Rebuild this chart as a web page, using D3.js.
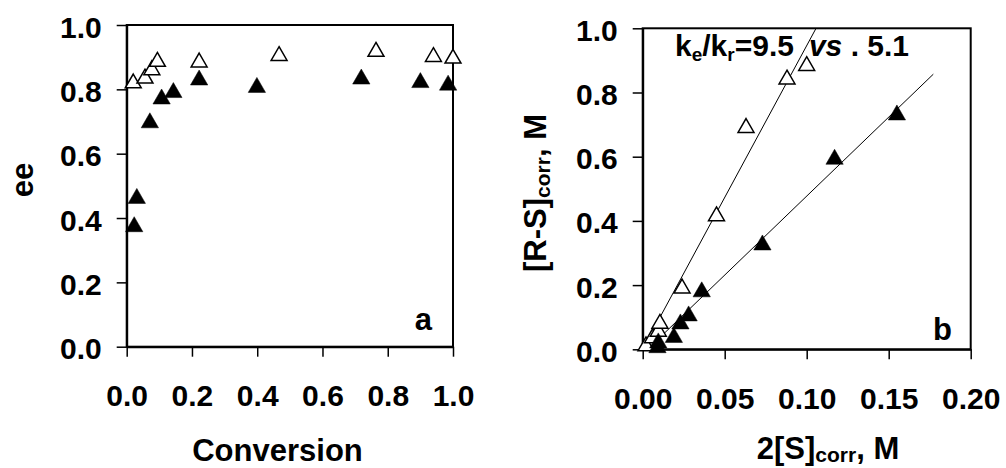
<!DOCTYPE html>
<html>
<head>
<meta charset="utf-8">
<script src="https://cdn.jsdelivr.net/npm/d3@7"></script>
<style>
  html, body { margin: 0; padding: 0; background: #fff; }
  svg { display: block; font-family: "Liberation Sans", Arial, sans-serif; font-weight: bold; }
  text { white-space: pre; }
</style>
</head>
<body>
<svg id="chart" width="1006" height="468"></svg>
<script>
// ---------- data: panel a (ee vs conversion) ----------
const convFilled = [0.023, 0.031, 0.071, 0.107, 0.143, 0.222, 0.399, 0.719, 0.900, 0.985];
const eeFilled   = [0.373, 0.461, 0.696, 0.770, 0.790, 0.829, 0.806, 0.832, 0.821, 0.813];
const convOpen   = [0.020, 0.056, 0.077, 0.094, 0.222, 0.467, 0.764, 0.940, 1.000];
const eeOpen     = [0.819, 0.834, 0.860, 0.886, 0.884, 0.904, 0.917, 0.901, 0.896];

// ---------- data: panel b ([R-S]corr vs 2[S]corr) ----------
const sFilled  = [0.009, 0.0095, 0.019, 0.023, 0.028, 0.036, 0.073, 0.117, 0.155];
const rsFilled = [0.005, 0.020, 0.037, 0.079, 0.104, 0.179, 0.325, 0.592, 0.730];
const sOpen    = [0.002, 0.006, 0.0095, 0.0105, 0.024, 0.045, 0.063, 0.088, 0.100];
const rsOpen   = [0.010, 0.035, 0.055, 0.080, 0.190, 0.415, 0.690, 0.841, 0.883];

// fitted lines (x, y)
const fitOpenX   = [0.0, 0.1057];
const fitOpenY   = [0.0, 1.0];
const fitFilledX = [0.003, 0.1772];
const fitFilledY = [0.0, 0.857];

// ticks
const ticksAx = [0, 0.2, 0.4, 0.6, 0.8, 1.0];
const ticksAy = [0, 0.2, 0.4, 0.6, 0.8, 1.0];
const ticksBx = [0, 0.05, 0.10, 0.15, 0.20];
const ticksBy = [0, 0.2, 0.4, 0.6, 0.8, 1.0];

// ---------- layout ----------
const svg = d3.select("#chart");
const TICK_FONT = 30, TITLE_FONT = 31;

const A = { left: 126.7, right: 453, top: 25, bottom: 346.7 };
const B = { left: 642.7, right: 970.7, top: 28.3, bottom: 349.3 };

const xA = d3.scaleLinear().domain([0, 1]).range([A.left, A.right]);
const yA = d3.scaleLinear().domain([0, 1]).range([A.bottom, A.top]);
const xB = d3.scaleLinear().domain([0, 0.2]).range([B.left, B.right]);
const yB = d3.scaleLinear().domain([0, 1]).range([B.bottom, B.top]);

function drawAxes(P, x, y, tx, ty, fx, fy) {
  const g = svg.append("g");
  g.append("rect")
    .attr("x", P.left).attr("y", P.top)
    .attr("width", P.right - P.left).attr("height", P.bottom - P.top)
    .attr("fill", "none").attr("stroke", "#000").attr("stroke-width", 2);
  const ax = g.append("g").attr("transform", `translate(0,${P.bottom})`)
    .call(d3.axisBottom(x).tickValues(tx).tickFormat(d3.format(fx))
      .tickSize(10).tickSizeOuter(0).tickPadding(28));
  const ay = g.append("g").attr("transform", `translate(${P.left},0)`)
    .call(d3.axisLeft(y).tickValues(ty).tickFormat(d3.format(fy))
      .tickSize(10).tickSizeOuter(0).tickPadding(15));
  [ax, ay].forEach(a => {
    a.select(".domain").attr("stroke", "#000").attr("stroke-width", 2);
    a.selectAll(".tick line").attr("stroke", "#000").attr("stroke-width", 1.5);
    a.selectAll(".tick text")
      .attr("fill", "#000")
      .style("font-size", TICK_FONT + "px")
      .style("font-weight", "bold")
      .style("font-family", '"Liberation Sans", Arial, sans-serif');
  });
  ay.selectAll(".tick text").attr("dy", "0.4em");
}

drawAxes(A, xA, yA, ticksAx, ticksAy, ".1f", ".1f");
drawAxes(B, xB, yB, ticksBx, ticksBy, ".2f", ".1f");

// ---------- fit lines (panel b) ----------
const line = d3.line().x(d => xB(d[0])).y(d => yB(d[1]));
svg.append("path").datum(d3.zip(fitOpenX, fitOpenY))
  .attr("d", line).attr("fill", "none").attr("stroke", "#000").attr("stroke-width", 1);
svg.append("path").datum(d3.zip(fitFilledX, fitFilledY))
  .attr("d", line).attr("fill", "none").attr("stroke", "#000").attr("stroke-width", 1);

// ---------- markers ----------
const triFilled = d3.symbol(d3.symbolTriangle, 130)();
const triOpen = d3.symbol(d3.symbolTriangle, 110)();

function drawPoints(xs, ys, x, y, filled) {
  svg.append("g").selectAll("path")
    .data(d3.zip(xs, ys))
    .join("path")
    .attr("d", filled ? triFilled : triOpen)
    .attr("transform", d => `translate(${x(d[0])},${y(d[1])})`)
    .attr("fill", filled ? "#000" : "#fff")
    .attr("stroke", "#000")
    .attr("stroke-width", filled ? 0.5 : 1.5);
}

drawPoints(convOpen, eeOpen, xA, yA, false);
drawPoints(convFilled, eeFilled, xA, yA, true);
drawPoints(sOpen, rsOpen, xB, yB, false);
drawPoints(sFilled, rsFilled, xB, yB, true);

// ---------- texts ----------
svg.append("text").attr("x", 432).attr("y", 330).attr("text-anchor", "end")
  .style("font-size", TITLE_FONT + "px").text("a");
svg.append("text").attr("x", 952).attr("y", 340).attr("text-anchor", "end")
  .style("font-size", TITLE_FONT + "px").text("b");

// x titles
svg.append("text").attr("x", 277.5).attr("y", 461).attr("text-anchor", "middle")
  .style("font-size", TITLE_FONT + "px").text("Conversion");

const xtB = svg.append("text").attr("x", 828).attr("y", 459).attr("text-anchor", "middle")
  .style("font-size", TITLE_FONT + "px");
xtB.append("tspan").text("2[S]");
xtB.append("tspan").attr("dy", 3).style("font-size", "21px").text("corr");
xtB.append("tspan").attr("dy", -3).text(", M");

// y titles
svg.append("text").attr("transform", "translate(33,180) rotate(-90)")
  .attr("text-anchor", "middle").style("font-size", TITLE_FONT + "px").text("ee");

const ytB = svg.append("text").attr("transform", "translate(546,193) rotate(-90)")
  .attr("text-anchor", "middle").style("font-size", TITLE_FONT + "px");
ytB.append("tspan").text("[R-S]");
ytB.append("tspan").attr("dy", 4).style("font-size", "21px").text("corr");
ytB.append("tspan").attr("dy", -4).text(", M");

// annotation
const ann = svg.append("text").attr("x", 675).attr("y", 56).style("font-size", "30px");
ann.append("tspan").text("k");
ann.append("tspan").attr("dy", 5).style("font-size", "19px").text("e");
ann.append("tspan").attr("dy", -5).text("/k");
ann.append("tspan").attr("dy", 5).style("font-size", "19px").text("r");
ann.append("tspan").attr("dy", -5).text("=9.5");
ann.append("tspan").attr("dx", 15).style("font-style", "italic").text("vs");
ann.append("tspan").text(" . 5.1");
</script>
</body>
</html>
